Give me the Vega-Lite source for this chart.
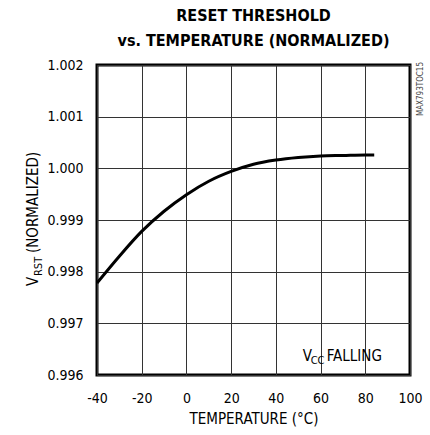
{
  "$schema": "https://vega.github.io/schema/vega-lite/v6.json",
  "width": 313,
  "height": 310,
  "autosize": "none",
  "padding": {"left": 97, "top": 65, "right": 20, "bottom": 60},
  "background": "white",
  "config": {
    "font": "DejaVu Sans Condensed, sans-serif",
    "view": {"stroke": "black", "strokeWidth": 3},
    "axis": {
      "grid": true, "gridColor": "#333", "gridWidth": 1, "gridOpacity": 1,
      "ticks": false, "domain": false,
      "labelFontSize": 14, "labelColor": "black", "labelFlush": false, "labelOverlap": false,
      "titleFontSize": 15, "titleFontWeight": "normal", "titleColor": "black"
    }
  },
  "title": {
    "text": ["RESET THRESHOLD", "vs. TEMPERATURE (NORMALIZED)"],
    "fontSize": 16, "fontWeight": "bold", "color": "black",
    "lineHeight": 25, "offset": 9, "anchor": "middle", "frame": "group"
  },
  "datasets": {
    "curve": [
      {"temp": -40, "v": 0.99778},
      {"temp": -30, "v": 0.99830},
      {"temp": -20, "v": 0.99878},
      {"temp": -10, "v": 0.99917},
      {"temp": 0, "v": 0.99949},
      {"temp": 10, "v": 0.99975},
      {"temp": 20, "v": 0.99994},
      {"temp": 30, "v": 1.00008},
      {"temp": 40, "v": 1.00016},
      {"temp": 50, "v": 1.00021},
      {"temp": 60, "v": 1.00024},
      {"temp": 70, "v": 1.00025},
      {"temp": 80, "v": 1.00026},
      {"temp": 84, "v": 1.00026}
    ]
  },
  "layer": [
    {
      "data": {"name": "curve"},
      "mark": {"type": "line", "color": "black", "strokeWidth": 3, "interpolate": "monotone"},
      "encoding": {
        "x": {"field": "temp", "type": "quantitative",
              "scale": {"domain": [-40, 100], "nice": false},
              "axis": {"values": [-40, -20, 0, 20, 40, 60, 80, 100], "labelPadding": 16,
                       "labelExpr": "'' + datum.value",
                       "title": "TEMPERATURE (°C)", "titlePadding": 6}},
        "y": {"field": "v", "type": "quantitative",
              "scale": {"domain": [0.996, 1.002], "nice": false, "zero": false},
              "axis": {"values": [0.996, 0.997, 0.998, 0.999, 1.0, 1.001, 1.002], "format": ".3f",
                       "labelPadding": 14, "title": null}}
      }
    },
    {
      "data": {"values": [{"t": "V"}]},
      "mark": {"type": "text", "angle": 270, "align": "left", "baseline": "alphabetic", "fontSize": 15, "color": "black", "dx": -66, "dy": -59},
      "encoding": {"x": {"datum": -40, "type": "quantitative"}, "y": {"datum": 0.999, "type": "quantitative"}, "text": {"field": "t"}}
    },
    {
      "data": {"values": [{"t": "RST"}]},
      "mark": {"type": "text", "angle": 270, "align": "left", "baseline": "alphabetic", "fontSize": 11, "color": "black", "dx": -56, "dy": -55},
      "encoding": {"x": {"datum": -40, "type": "quantitative"}, "y": {"datum": 0.999, "type": "quantitative"}, "text": {"field": "t"}}
    },
    {
      "data": {"values": [{"t": "(NORMALIZED)"}]},
      "mark": {"type": "text", "angle": 270, "align": "left", "baseline": "alphabetic", "fontSize": 15, "color": "black", "dx": -33, "dy": -59},
      "encoding": {"x": {"datum": -40, "type": "quantitative"}, "y": {"datum": 0.999, "type": "quantitative"}, "text": {"field": "t"}}
    },
    {
      "data": {"values": [{"t": "V"}]},
      "mark": {"type": "text", "align": "left", "baseline": "alphabetic", "fontSize": 15, "color": "black"},
      "encoding": {"x": {"datum": 52, "type": "quantitative"}, "y": {"datum": 0.99628, "type": "quantitative"}, "text": {"field": "t"}}
    },
    {
      "data": {"values": [{"t": "CC"}]},
      "mark": {"type": "text", "align": "left", "baseline": "alphabetic", "fontSize": 11, "color": "black", "dx": 8, "dy": 3},
      "encoding": {"x": {"datum": 52, "type": "quantitative"}, "y": {"datum": 0.99628, "type": "quantitative"}, "text": {"field": "t"}}
    },
    {
      "data": {"values": [{"t": "FALLING"}]},
      "mark": {"type": "text", "align": "left", "baseline": "alphabetic", "fontSize": 15, "color": "black", "dx": 24},
      "encoding": {"x": {"datum": 52, "type": "quantitative"}, "y": {"datum": 0.99628, "type": "quantitative"}, "text": {"field": "t"}}
    },
    {
      "data": {"values": [{"t": "MAX793TOC15"}]},
      "mark": {"type": "text", "angle": 270, "align": "right", "baseline": "alphabetic", "fontSize": 8, "color": "#444", "dx": 3, "dy": 13},
      "encoding": {"x": {"datum": 100, "type": "quantitative"}, "y": {"datum": 1.002, "type": "quantitative"}, "text": {"field": "t"}}
    }
  ]
}
